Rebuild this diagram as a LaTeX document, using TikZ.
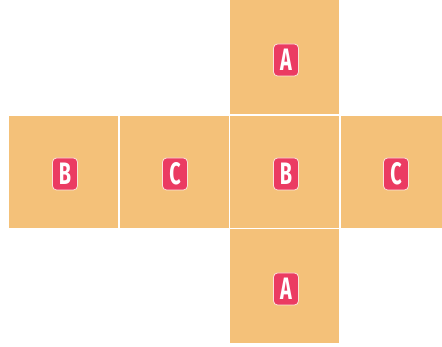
\documentclass[tikz,border=0pt]{standalone}
\usepackage{fontspec}
\newfontfamily\badgefont[FakeStretch=0.64]{Fira Sans}
\definecolor{face}{HTML}{F4C179}
\definecolor{badge}{HTML}{EB3B62}
\definecolor{badgeline}{HTML}{FBE3DC}
\tikzset{
  facebox/.style={fill=face, draw=none, minimum width=109pt, minimum height=112pt, inner sep=0pt, anchor=north west},
  badgebox/.style={fill=badge, draw=badgeline, line width=0.8pt, rounded corners=4pt, minimum width=25pt, minimum height=32pt, inner sep=0pt, text=white, font=\badgefont\bfseries\fontsize{31}{31}\selectfont}
}
\begin{document}
\begin{tikzpicture}[x=1pt,y=-1pt]
\useasboundingbox (0,0) rectangle (442,347);
% faces
\node[facebox, minimum height=114pt] (top) at (230,0) {};
\node[facebox] (m1) at (9,116) {};
\node[facebox] (m2) at (120,116) {};
\node[facebox] (m3) at (230,116) {};
\node[facebox, minimum width=102pt] (m4) at (341,116) {};
\node[facebox, minimum height=114pt] (bot) at (230,229) {};
% badges
\node[badgebox] (la) at (286,60) {A};
\node[badgebox] (lb1) at (65,174) {B};
\node[badgebox] (lc1) at (175,174) {C};
\node[badgebox] (lb2) at (286,174) {B};
\node[badgebox] (lc2) at (396,174) {C};
\node[badgebox] (la2) at (286,289) {A};
\end{tikzpicture}
\end{document}
